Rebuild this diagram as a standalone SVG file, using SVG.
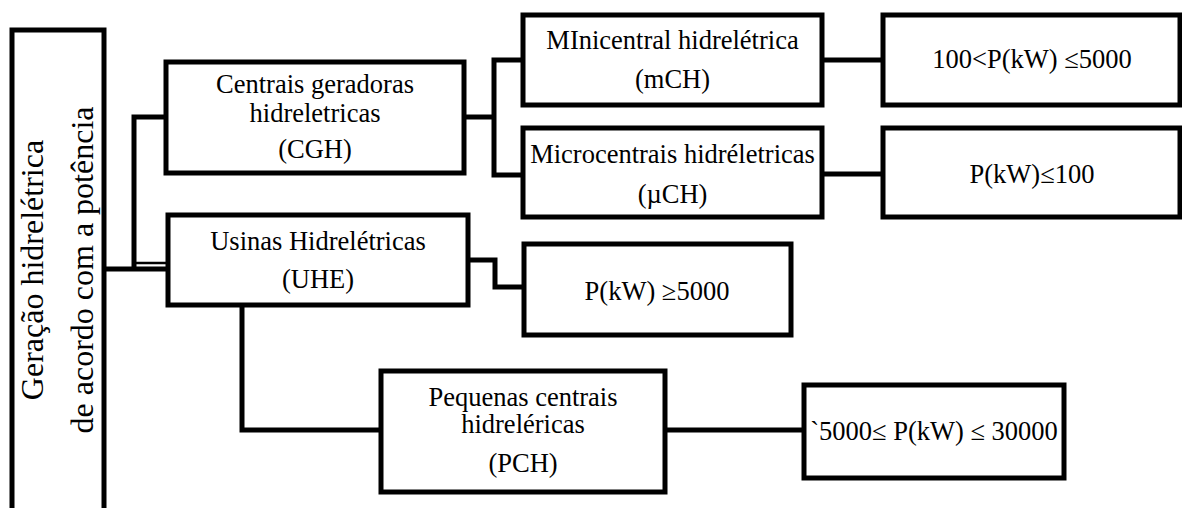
<svg xmlns="http://www.w3.org/2000/svg" width="1182" height="508" viewBox="0 0 1182 508">
<style>
.box{fill:#fff;stroke:#000;stroke-width:5}
.c{fill:none;stroke:#000;stroke-width:5;stroke-linejoin:miter}
.t{font-family:'Liberation Serif','Times New Roman','DejaVu Serif',serif;font-size:26.5px;fill:#000;text-anchor:middle}
.big{font-size:32px}
</style>
<rect width="1182" height="508" fill="#fff"/>
<g id="connectors">
<polyline class="c" points="105,269 167,269"/>
<line x1="134" y1="263" x2="167" y2="263" stroke="#000" stroke-width="2.5"/>
<polyline class="c" points="134,269 134,117 166,117"/>
<polyline class="c" points="464,117 494,117"/>
<polyline class="c" points="522,60 494,60 494,175 522,175"/>
<polyline class="c" points="822,60 883,60"/>
<polyline class="c" points="822,174 883,174"/>
<polyline class="c" points="468,260 495,260 495,287 523,287"/>
<polyline class="c" points="242,305 242,430 381,430"/>
<polyline class="c" points="665,430 804,430"/>
</g>
<g id="root">
<rect class="box" x="12" y="30" width="92" height="500"/>
<text class="t big" font-family="Liberation Serif, serif" transform="translate(43,270) rotate(-90)">Geração hidrelétrica</text>
<text class="t big" font-family="Liberation Serif, serif" transform="translate(93,270) rotate(-90)">de acordo com a potência</text>
</g>
<g id="cgh">
<rect class="box" x="166" y="62" width="298" height="111"/>
<text class="t" x="315" y="93">Centrais geradoras</text>
<text class="t" x="315" y="122">hidreletricas</text>
<text class="t" x="315" y="158">(CGH)</text>
</g>
<g id="uhe">
<rect class="box" x="168" y="215" width="300" height="90"/>
<text class="t" x="318" y="250">Usinas Hidrelétricas</text>
<text class="t" x="318" y="288">(UHE)</text>
</g>
<g id="mch">
<rect class="box" x="523" y="15" width="299" height="90"/>
<text class="t" x="672.5" y="49">MInicentral hidrelétrica</text>
<text class="t" x="672.5" y="88">(mCH)</text>
</g>
<g id="uch">
<rect class="box" x="523" y="128" width="299" height="89"/>
<text class="t" x="672.5" y="163">Microcentrais hidréletricas</text>
<text class="t" x="672.5" y="203">(µCH)</text>
</g>
<g id="mch-range">
<rect class="box" x="883" y="15" width="297" height="90"/>
<text class="t" x="1032" y="68">100&lt;P(kW) ≤5000</text>
</g>
<g id="uch-range">
<rect class="box" x="883" y="128" width="297" height="89"/>
<text class="t" x="1032" y="183">P(kW)≤100</text>
</g>
<g id="uhe-range">
<rect class="box" x="524" y="244" width="267" height="91"/>
<text class="t" x="657" y="300">P(kW) ≥5000</text>
</g>
<g id="pch">
<rect class="box" x="381" y="371" width="284" height="121"/>
<text class="t" x="523" y="406">Pequenas centrais</text>
<text class="t" x="523" y="433">hidreléricas</text>
<text class="t" x="523" y="472">(PCH)</text>
</g>
<g id="pch-range">
<rect class="box" x="804" y="385" width="260" height="93"/>
<text class="t" x="934" y="440">`5000≤ P(kW) ≤ 30000</text>
</g>
</svg>
